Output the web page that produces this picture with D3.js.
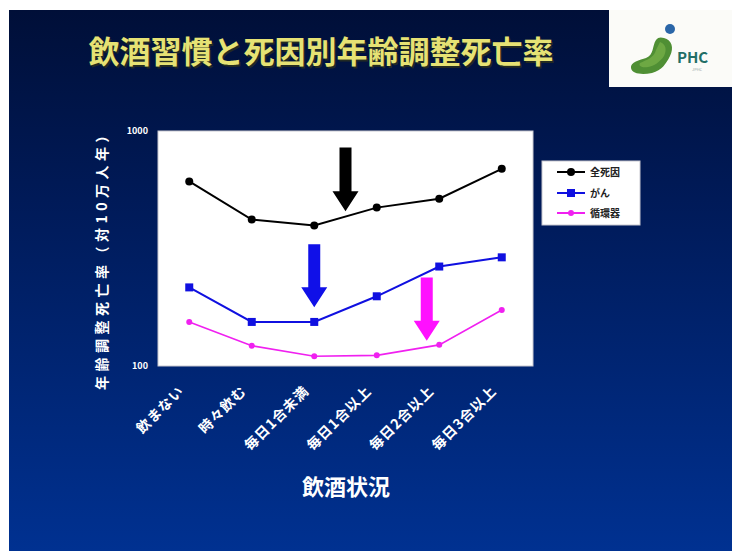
<!DOCTYPE html>
<html><head><meta charset="utf-8">
<script src="https://cdn.jsdelivr.net/npm/d3@7/dist/d3.min.js"></script>
<style>
html,body{margin:0;padding:0;background:#fff;}
svg{display:block;}
text{font-family:"Noto Sans CJK JP","Noto Sans",sans-serif;}
</style></head>
<body>
<svg id="c" width="732" height="551"></svg>
<script>
// ---- data ----
const categories = ["飲まない","時々飲む","毎日1合未満","毎日1合以上","毎日2合以上","毎日3合以上"];
const seriesNames = ["全死因","がん","循環器"];
const allCauses = [610, 420, 396, 472, 515, 690];
const cancer = [216, 154, 154, 198, 265, 290];
const circulatory = [154, 122, 110, 111, 123, 173];
const yTicks = [100, 1000];
const yTickLabels = ["100","1000"];
// arrow annotations: category, offset in steps, from value, to value
const arrowCats = ["毎日1合未満","毎日1合未満","毎日1合以上"];
const arrowOffsets = [0.5, 0, 0.8];
const arrowFrom = [850, 330, 238];
const arrowTo = [455, 178, 128];
const titleText = "飲酒習慣と死因別年齢調整死亡率";
const yLabel = "年齢調整死亡率（対10万人年）";
const xLabel = "飲酒状況";

const svg = d3.select("#c");
const defs = svg.append("defs");
const grad = defs.append("linearGradient").attr("id","bg").attr("x1",0).attr("y1",0).attr("x2",0).attr("y2",1);
grad.append("stop").attr("offset","0%").attr("stop-color","#000f38");
grad.append("stop").attr("offset","35%").attr("stop-color","#001a58");
grad.append("stop").attr("offset","100%").attr("stop-color","#003191");

svg.append("rect").attr("x",9).attr("y",10).attr("width",723).attr("height",541).attr("fill","url(#bg)");

// title
svg.append("text").attr("x",321).attr("y",63).attr("text-anchor","middle")
  .attr("font-size",31).attr("font-weight","bold").attr("fill","#3a3a10").attr("opacity",0.6)
  .attr("transform","translate(1.5,1.5)").text(titleText);
svg.append("text").attr("x",321).attr("y",63).attr("text-anchor","middle")
  .attr("font-size",31).attr("font-weight","bold").attr("fill","#e6e274").text(titleText);

// logo
const logo = svg.append("g");
logo.append("rect").attr("x",609).attr("y",10).attr("width",123).attr("height",77).attr("fill","#fbfbf8");
logo.append("circle").attr("cx",670).attr("cy",29).attr("r",5).attr("fill","#2a66a8");
logo.append("path").attr("d","M664,38 C672,40 674,48 670,56 C666,64 662,70 652,73 C642,75 632,74 631,68 C630,62 640,60 646,58 C654,55 652,46 656,40 C658,37 661,37 664,38 Z")
  .attr("fill","#4f8f34");
logo.append("path").attr("d","M660,42 C666,44 667,50 664,56 C660,62 654,66 648,67 C642,68 638,66 640,63 C646,60 654,58 656,50 Z")
  .attr("fill","#7ab24a").attr("opacity",0.7);
logo.append("text").attr("x",677).attr("y",63).attr("font-size",15).attr("font-weight","bold")
  .attr("fill","#236e66").attr("font-family","Liberation Sans, Arial, sans-serif").text("PHC");
logo.append("text").attr("x",692).attr("y",71).attr("font-size",4).attr("fill","#9aa").text("JPHC");

// plot area
const L=158, R=533, T=131, B=366;
svg.append("rect").attr("x",L).attr("y",T).attr("width",R-L).attr("height",B-T)
  .attr("fill","#ffffff").attr("stroke","#c8c8d0").attr("stroke-width",1);

const x = d3.scalePoint().domain(categories).range([L,R]).padding(0.5);
const y = d3.scaleLog().domain([100,1000]).range([B,T]);

// y axis
const yAxis = d3.axisLeft(y).tickValues(yTicks).tickSize(0).tickPadding(10)
  .tickFormat((d,i)=>yTickLabels[i]);
const gy = svg.append("g").attr("transform",`translate(${L},0)`).call(yAxis);
gy.select(".domain").remove();
gy.selectAll("text").attr("fill","#ffffff").attr("font-size",9).attr("font-weight","bold")
  .attr("font-family","Liberation Sans, Arial, sans-serif");

// x axis labels
const xAxis = d3.axisBottom(x).tickSize(0).tickPadding(0);
const gx = svg.append("g").attr("transform",`translate(0,${B})`).call(xAxis);
gx.select(".domain").remove();
gx.selectAll("text").attr("fill","#ffffff").attr("font-size",14).attr("font-weight","bold")
  .attr("letter-spacing","1px")
  .attr("text-anchor","end").attr("dy",0)
  .attr("transform","translate(-5,26) rotate(-45)");

// axis titles
svg.append("text").attr("transform","translate(107,257) rotate(-90)").attr("text-anchor","middle")
  .attr("font-size",14).attr("font-weight","bold").attr("fill","#ffffff").attr("letter-spacing","4.5px")
  .text(yLabel);
svg.append("text").attr("x",346).attr("y",495).attr("text-anchor","middle")
  .attr("font-size",22).attr("font-weight","bold").attr("fill","#ffffff").text(xLabel);

// series
const series = [
  {name:seriesNames[0], values:allCauses, color:"#000000", w:2, marker:"circle", size:4},
  {name:seriesNames[1], values:cancer, color:"#1010e0", w:2, marker:"square", size:8},
  {name:seriesNames[2], values:circulatory, color:"#f020f0", w:1.6, marker:"circle", size:3}
];
const line = d3.line().x((d,i)=>x(categories[i])).y(d=>y(d));
series.forEach(s=>{
  svg.append("path").attr("d",line(s.values)).attr("fill","none").attr("stroke",s.color).attr("stroke-width",s.w);
  const g = svg.append("g");
  s.values.forEach((v,i)=>{
    if(s.marker==="circle") g.append("circle").attr("cx",x(categories[i])).attr("cy",y(v)).attr("r",s.size).attr("fill",s.color);
    else g.append("rect").attr("x",x(categories[i])-s.size/2).attr("y",y(v)-s.size/2).attr("width",s.size).attr("height",s.size).attr("fill",s.color);
  });
});

// arrows
const arrowColors = ["#000000","#1010e8","#ff10ff"];
arrowCats.forEach((c,i)=>{
  const cx = x(c) + arrowOffsets[i]*x.step();
  const y0 = y(arrowFrom[i]), y1 = y(arrowTo[i]);
  const sw=6, hw=13, hl=20;
  const p = d3.path();
  p.moveTo(cx-sw,y0); p.lineTo(cx+sw,y0); p.lineTo(cx+sw,y1-hl); p.lineTo(cx+hw,y1-hl);
  p.lineTo(cx,y1); p.lineTo(cx-hw,y1-hl); p.lineTo(cx-sw,y1-hl); p.closePath();
  svg.append("path").attr("d",p.toString()).attr("fill",arrowColors[i]);
});

// legend
const lg = svg.append("g");
lg.append("rect").attr("x",542).attr("y",161).attr("width",98).attr("height",64)
  .attr("fill","#ffffff").attr("stroke","#c8c8d0");
const legY = [172,193,213];
series.forEach((s,i)=>{
  lg.append("line").attr("x1",557).attr("x2",585).attr("y1",legY[i]).attr("y2",legY[i]).attr("stroke",s.color).attr("stroke-width",2);
  if(s.marker==="circle") lg.append("circle").attr("cx",571).attr("cy",legY[i]).attr("r",s.size).attr("fill",s.color);
  else lg.append("rect").attr("x",571-s.size/2).attr("y",legY[i]-s.size/2).attr("width",s.size).attr("height",s.size).attr("fill",s.color);
  lg.append("text").attr("x",590).attr("y",legY[i]+4).attr("font-size",10).attr("font-weight","bold").attr("fill","#222").text(s.name);
});
</script>
</body></html>
